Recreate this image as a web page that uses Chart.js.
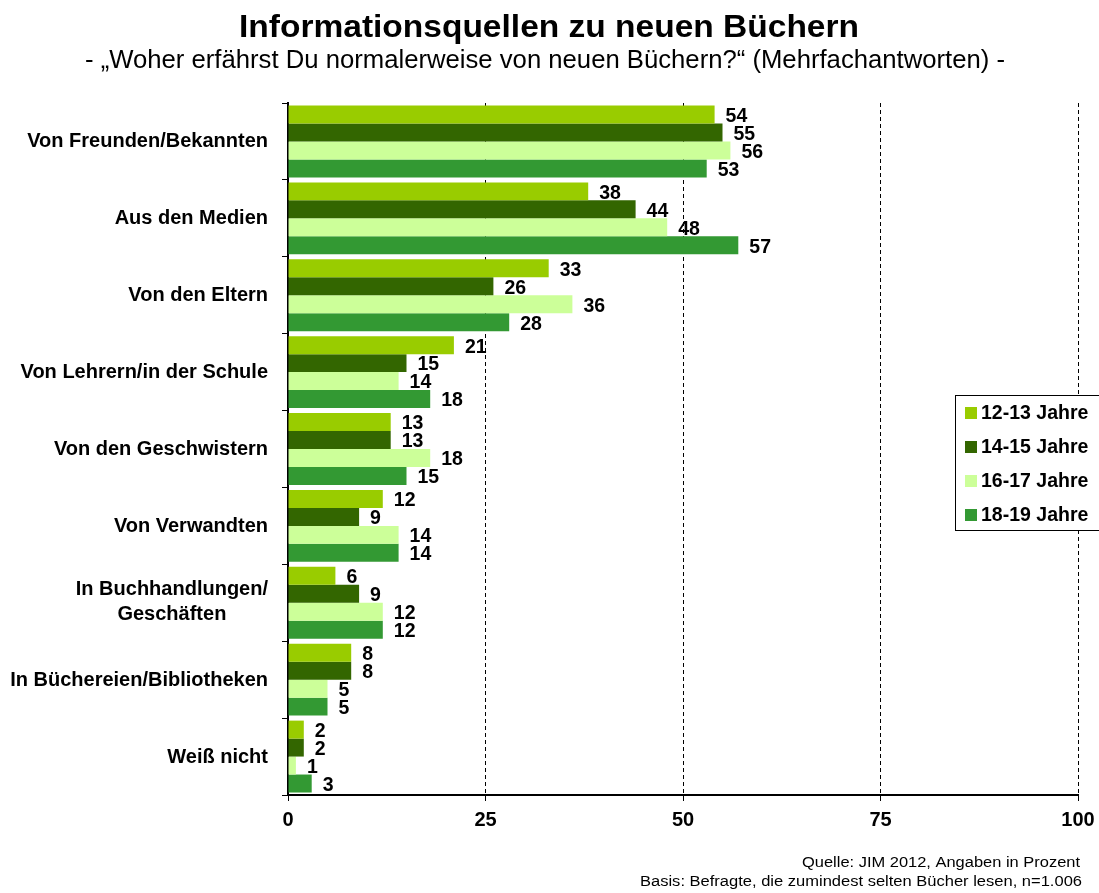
<!DOCTYPE html>
<html>
<head>
<meta charset="utf-8">
<script src="https://cdn.jsdelivr.net/npm/chart.js@4"></script>
<style>
  body { margin: 0; background: #fff; }
  canvas { display: block; }
</style>
</head>
<body>
<canvas id="booksChart" width="1099" height="893"></canvas>
<script>
const categories = [
    'Von Freunden/Bekannten',
    'Aus den Medien',
    'Von den Eltern',
    'Von Lehrern/in der Schule',
    'Von den Geschwistern',
    'Von Verwandten',
    ['In Buchhandlungen/', 'Geschäften'],
    'In Büchereien/Bibliotheken',
    'Weiß nicht'
];
const seriesNames = ['12-13 Jahre', '14-15 Jahre', '16-17 Jahre', '18-19 Jahre'];
const age1213 = [54, 38, 33, 21, 13, 12, 6, 8, 2];
const age1415 = [55, 44, 26, 15, 13, 9, 9, 8, 2];
const age1617 = [56, 48, 36, 14, 18, 14, 12, 5, 1];
const age1819 = [53, 57, 28, 18, 15, 14, 12, 5, 3];
const xTicks = [0, 25, 50, 75, 100];

const colors = ['#99CC00', '#336600', '#CCFF99', '#339933'];
const FONT = "'Liberation Sans', Arial, sans-serif";

// draw text stretched/squeezed horizontally to a given width
function fitText(ctx, text, x, y, width, align) {
    const w = ctx.measureText(text).width;
    const k = width / w;
    ctx.save();
    ctx.textAlign = 'left';
    let left = x;
    if (align === 'center') left = x - width / 2;
    if (align === 'right') left = x - width;
    ctx.translate(left, y);
    ctx.scale(k, 1);
    ctx.fillText(text, 0, 0);
    ctx.restore();
}

// titles, category labels, value labels, legend box and footnotes
const decorations = {
    id: 'decorations',
    afterDraw(chart) {
        const ctx = chart.ctx;
        const yScale = chart.scales.y;
        ctx.save();
        ctx.fillStyle = '#000';

        // title + subtitle
        ctx.textBaseline = 'alphabetic';
        ctx.font = 'bold 31px ' + FONT;
        fitText(ctx, 'Informationsquellen zu neuen Büchern', 549, 37, 620, 'center');
        ctx.font = '25px ' + FONT;
        fitText(ctx, '- \u201EWoher erfährst Du normalerweise von neuen Büchern?\u201C (Mehrfachantworten) -', 545, 68, 920, 'center');

        // category labels
        ctx.font = 'bold 20px ' + FONT;
        ctx.textAlign = 'center';
        ctx.textBaseline = 'middle';
        categories.forEach((cat, i) => {
            const lines = Array.isArray(cat) ? cat : [cat];
            const w = Math.max(...lines.map(l => ctx.measureText(l).width));
            const cy = yScale.getPixelForValue(i);
            const lh = 25;
            lines.forEach((l, j) => {
                const dy = lines.length > 1 ? (j - (lines.length - 1) / 2) * lh - 1 : 0.5;
                ctx.fillText(l, 268 - w / 2, cy + dy);
            });
        });

        // value labels
        ctx.textAlign = 'left';
        ctx.font = 'bold 19.5px ' + FONT;
        chart.data.datasets.forEach((ds, di) => {
            chart.getDatasetMeta(di).data.forEach((bar, i) => {
                ctx.fillText(ds.data[i], bar.x + 11, bar.y + 2);
            });
        });

        // legend
        ctx.fillStyle = '#fff';
        ctx.fillRect(955, 395, 160, 135);
        ctx.strokeStyle = '#000';
        ctx.lineWidth = 1;
        ctx.strokeRect(955.5, 395.5, 160, 135);
        ctx.font = 'bold 19.5px ' + FONT;
        seriesNames.forEach((name, i) => {
            const cy = 413 + i * 34;
            ctx.fillStyle = colors[i];
            ctx.fillRect(965, cy - 6, 12, 12);
            ctx.fillStyle = '#000';
            ctx.fillText(name, 981, cy + 1);
        });

        // footnotes
        ctx.textBaseline = 'alphabetic';
        ctx.font = '14px ' + FONT;
        fitText(ctx, 'Quelle: JIM 2012, Angaben in Prozent', 1080, 867, 278, 'right');
        fitText(ctx, 'Basis: Befragte, die zumindest selten Bücher lesen, n=1.006', 1082, 886, 442, 'right');
        ctx.restore();
    }
};

const ctx = document.getElementById('booksChart').getContext('2d');
const booksChart = new Chart(ctx, {
    type: 'bar',
    data: {
        labels: categories,
        datasets: [
            { label: seriesNames[0], data: age1213, backgroundColor: colors[0] },
            { label: seriesNames[1], data: age1415, backgroundColor: colors[1] },
            { label: seriesNames[2], data: age1617, backgroundColor: colors[2] },
            { label: seriesNames[3], data: age1819, backgroundColor: colors[3] }
        ]
    },
    options: {
        indexAxis: 'y',
        responsive: false,
        animation: false,
        layout: { padding: { top: 103, right: 21, bottom: 0, left: 0 } },
        datasets: {
            bar: { categoryPercentage: 0.935, barPercentage: 1.0 }
        },
        plugins: {
            legend: { display: false },
            tooltip: { enabled: false }
        },
        scales: {
            x: {
                min: 0,
                max: 100,
                afterBuildTicks: scale => {
                    scale.ticks = xTicks.map(v => ({ value: v }));
                },
                afterFit: scale => {
                    scale.height = 98;
                    scale.paddingLeft = 0;
                    scale.paddingRight = 0;
                },
                border: { display: true, color: '#000', width: 2, dash: [4, 3] },
                grid: {
                    color: c => (c.tick && c.tick.value === 0) ? 'rgba(0,0,0,0)' : '#000',
                    lineWidth: 1,
                    drawTicks: true,
                    tickLength: 6,
                    tickColor: '#000',
                    tickWidth: 1,
                    tickBorderDash: []
                },
                ticks: {
                    color: '#000',
                    padding: 7,
                    font: { family: FONT, size: 20, weight: 'bold' }
                }
            },
            y: {
                afterFit: scale => { scale.width = 288; },
                border: { display: true, color: '#000', width: 2 },
                grid: {
                    drawOnChartArea: false,
                    drawTicks: true,
                    tickLength: 6,
                    tickColor: '#000',
                    tickWidth: 1,
                    offset: true
                },
                ticks: { display: false }
            }
        }
    },
    plugins: [decorations]
});
</script>
</body>
</html>
